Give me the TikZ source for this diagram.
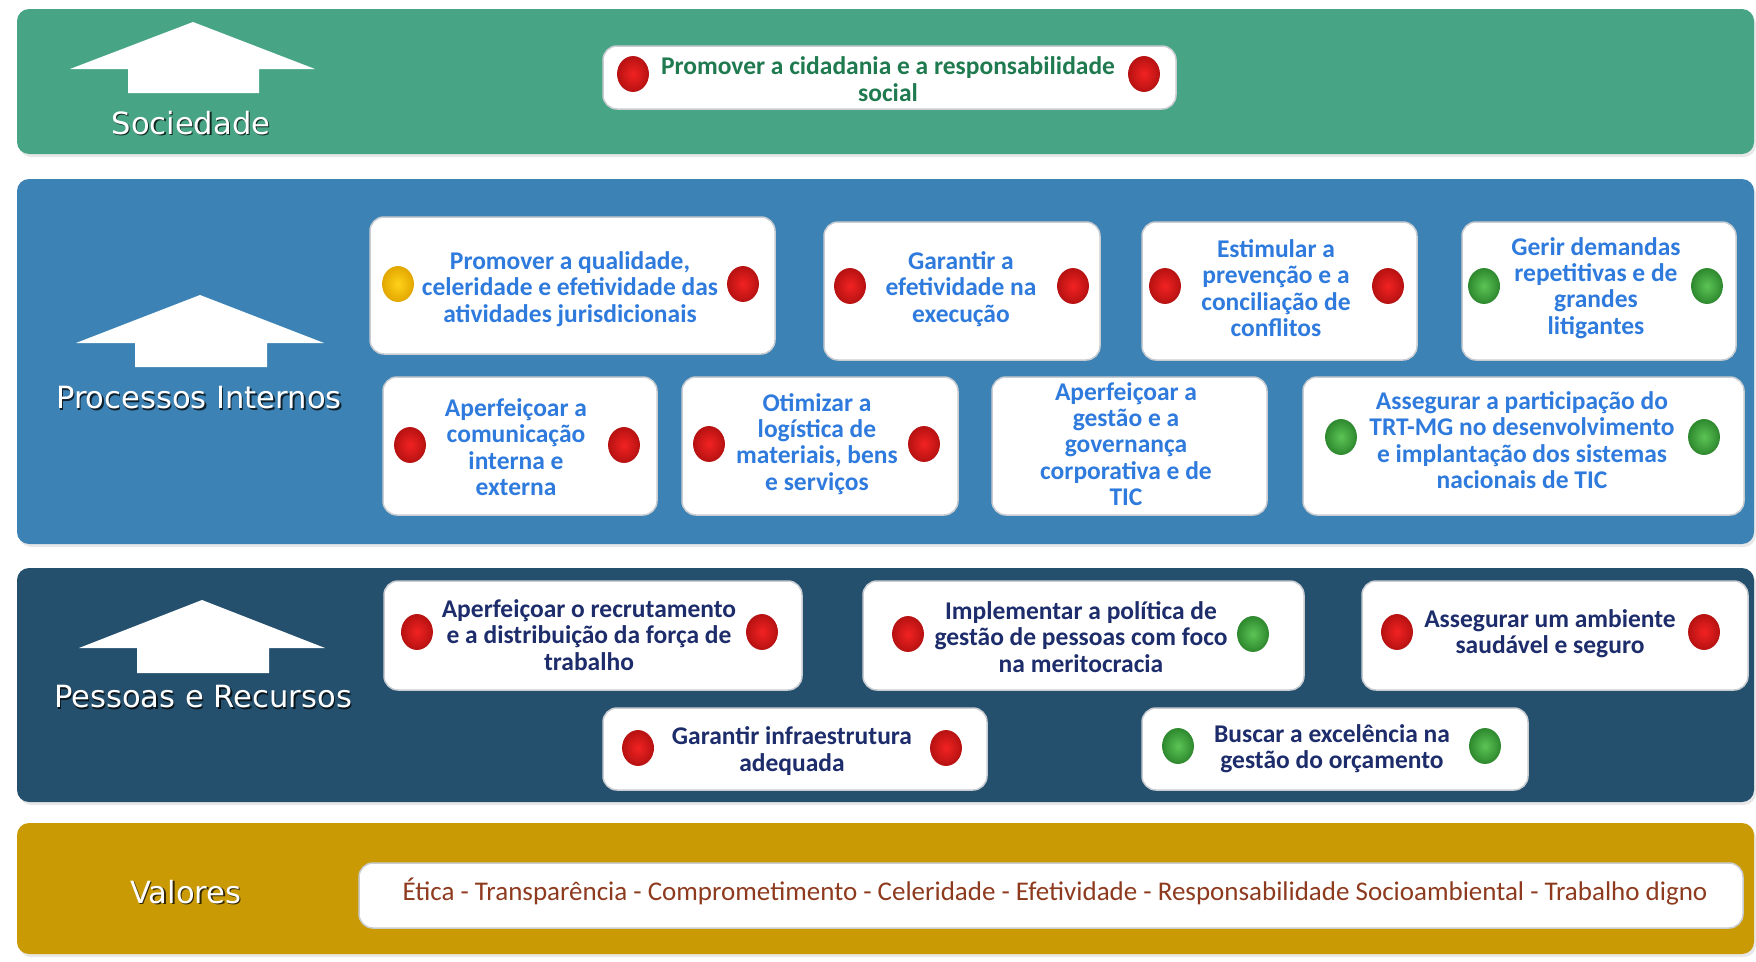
\documentclass[tikz,border=0pt]{standalone}
\usepackage{fontspec}
\setmainfont{Carlito}
\newfontfamily\labfont{DejaVu Sans}
\usetikzlibrary{shapes.geometric,shadows}
\definecolor{socgreen}{HTML}{47A586}
\definecolor{procblue}{HTML}{3C82B4}
\definecolor{pessnavy}{HTML}{24506E}
\definecolor{valgold}{HTML}{C99A04}
\definecolor{soctext}{HTML}{1F7A4F}
\definecolor{proctext}{HTML}{2F7BDD}
\definecolor{pesstext}{HTML}{1D2C6B}
\definecolor{valtext}{HTML}{8E3A1E}
\definecolor{boxline}{HTML}{C9CDD2}
\definecolor{rdin}{HTML}{F22222}
\definecolor{rdout}{HTML}{B81212}
\definecolor{gdin}{HTML}{5CC455}
\definecolor{gdout}{HTML}{2F8A2F}
\definecolor{ydin}{HTML}{FFD21A}
\definecolor{ydout}{HTML}{E3A800}
\tikzset{
  band/.style={rounded corners=12pt, drop shadow={shadow xshift=2pt, shadow yshift=-3pt, opacity=0.18}},
  objbox/.style={draw=boxline, line width=1.5pt, fill=white, rounded corners=14pt, inner sep=0pt},
  objtext/.style={align=center, font=\bfseries\fontsize{25.5}{26.3}\selectfont, inner sep=0pt},
  labtext/.style={font=\labfont\fontsize{30.6}{33}\selectfont, text=white, inner sep=0pt},
  labshadow/.style={font=\labfont\fontsize{30.6}{33}\selectfont, text=black, opacity=0.75, inner sep=0pt},
  dotbase/.style={ellipse, minimum width=31pt, minimum height=35pt, inner sep=0pt, line width=0.8pt, shading=radial},
  reddot/.style={dotbase, draw=rdout, inner color=rdin, outer color=rdout},
  greendot/.style={dotbase, draw=gdout, inner color=gdin, outer color=gdout},
  yellowdot/.style={dotbase, draw=ydout, inner color=ydin, outer color=ydout},
  uparrow/.style={fill=white}
}
\begin{document}
\begin{tikzpicture}[x=1pt,y=-1pt]
\useasboundingbox[fill=white] (0,0) rectangle (1756,961);
% bands
\fill[band, socgreen] (17,9) rectangle (1754,154);
\fill[band, procblue] (17,179) rectangle (1754,544);
\fill[band, pessnavy] (17,568) rectangle (1754,802);
\fill[band, valgold] (17,823) rectangle (1754,954);
% arrows
\fill[uparrow] (70,69) -- (193,22) -- (315,69) -- (259,69) -- (259,93) -- (128,93) -- (128,69) -- cycle;
\fill[uparrow] (76,343) -- (200,295) -- (324,343) -- (267,343) -- (267,367) -- (135,367) -- (135,343) -- cycle;
\fill[uparrow] (79,648) -- (202,600) -- (325,648) -- (269,648) -- (269,673) -- (137,673) -- (137,648) -- cycle;
% labels
\node[labshadow] (socS) at (192.3,124.3) {Sociedade};
\node[labtext] (soc) at (191,123) {Sociedade};
\node[labshadow] (procS) at (200.3,399.3) {Processos Internos};
\node[labtext] (proc) at (199,398) {Processos Internos};
\node[labshadow] (pessS) at (204.3,698.3) {Pessoas e Recursos};
\node[labtext] (pess) at (203,697) {Pessoas e Recursos};
\node[labshadow] (valS) at (187.3,893.3) {Valores};
\node[labtext] (val) at (186,892) {Valores};
% Sociedade box
\node[objbox, minimum width=573pt, minimum height=63pt] (s1) at (889.5,77.5) {};
\node[objtext, text=soctext] (s1t) at (888,79) {Promover a cidadania e a responsabilidade\\social};
\node[reddot] (s1l) at (633,74) {};
\node[reddot] (s1r) at (1144,74) {};
% Processos boxes
\node[objbox, minimum width=405pt, minimum height=137pt] (b1) at (572.5,285.5) {};
\node[objtext, text=proctext] (b1t) at (570,289) {Promover a qualidade,\\celeridade e efetividade das\\atividades jurisdicionais};
\node[yellowdot] (b1l) at (398,284) {};
\node[reddot] (b1r) at (743,284) {};
\node[objbox, minimum width=276pt, minimum height=138pt] (b2) at (962,291) {};
\node[objtext, text=proctext] (b2t) at (961,289) {Garantir a\\efetividade na\\execução};
\node[reddot] (b2l) at (850,286) {};
\node[reddot] (b2r) at (1073,286) {};
\node[objbox, minimum width=275pt, minimum height=138pt] (b3) at (1279.5,291) {};
\node[objtext, text=proctext] (b3t) at (1276,288) {Estimular a\\prevenção e a\\conciliação de\\conflitos};
\node[reddot] (b3l) at (1165,286) {};
\node[reddot] (b3r) at (1388,286) {};
\node[objbox, minimum width=274pt, minimum height=138pt] (b4) at (1599,291) {};
\node[objtext, text=proctext] (b4t) at (1596,288) {Gerir demandas\\repetitivas e de\\grandes\\litigantes};
\node[greendot] (b4l) at (1484,286) {};
\node[greendot] (b4r) at (1707,286) {};
\node[objbox, minimum width=274pt, minimum height=138pt] (b5) at (520,446) {};
\node[objtext, text=proctext] (b5t) at (516,447) {Aperfeiçoar a\\comunicação\\interna e\\externa};
\node[reddot] (b5l) at (410,445) {};
\node[reddot] (b5r) at (624,445) {};
\node[objbox, minimum width=276pt, minimum height=138pt] (b6) at (820,446) {};
\node[objtext, text=proctext] (b6t) at (817,444) {Otimizar a\\logística de\\materiais, bens\\e serviços};
\node[reddot] (b6l) at (709,444) {};
\node[reddot] (b6r) at (924,444) {};
\node[objbox, minimum width=275pt, minimum height=138pt] (b7) at (1129.5,446) {};
\node[objtext, text=proctext] (b7t) at (1126,444) {Aperfeiçoar a\\gestão e a\\governança\\corporativa e de\\TIC};
\node[objbox, minimum width=441pt, minimum height=138pt] (b8) at (1523.5,446) {};
\node[objtext, text=proctext] (b8t) at (1522,440) {Assegurar a participação do\\TRT-MG no desenvolvimento\\e implantação dos sistemas\\nacionais de TIC};
\node[greendot] (b8l) at (1341,437) {};
\node[greendot] (b8r) at (1704,437) {};
% Pessoas boxes
\node[objbox, minimum width=418pt, minimum height=109pt] (c1) at (593,635.5) {};
\node[objtext, text=pesstext] (c1t) at (589,635) {Aperfeiçoar o recrutamento\\e a distribuição da força de\\trabalho};
\node[reddot] (c1l) at (417,632) {};
\node[reddot] (c1r) at (762,632) {};
\node[objbox, minimum width=441pt, minimum height=109pt] (c2) at (1083.5,635.5) {};
\node[objtext, text=pesstext] (c2t) at (1081,637) {Implementar a política de\\gestão de pessoas com foco\\na meritocracia};
\node[reddot] (c2l) at (908,634) {};
\node[greendot] (c2r) at (1253,634) {};
\node[objbox, minimum width=386pt, minimum height=109pt] (c3) at (1555,635.5) {};
\node[objtext, text=pesstext] (c3t) at (1550,634) {Assegurar um ambiente\\saudável e seguro};
\node[reddot] (c3l) at (1397,632) {};
\node[reddot] (c3r) at (1704,632) {};
\node[objbox, minimum width=384pt, minimum height=82pt] (c4) at (795,749) {};
\node[objtext, text=pesstext] (c4t) at (792,751) {Garantir infraestrutura\\adequada};
\node[reddot] (c4l) at (638,748) {};
\node[reddot] (c4r) at (946,748) {};
\node[objbox, minimum width=386pt, minimum height=82pt] (c5) at (1335,749) {};
\node[objtext, text=pesstext] (c5t) at (1332,749) {Buscar a excelência na\\gestão do orçamento};
\node[greendot] (c5l) at (1178,746) {};
\node[greendot] (c5r) at (1485,746) {};
% Valores box
\node[objbox, minimum width=1384pt, minimum height=65pt] (v1) at (1051,895.5) {};
\node[inner sep=0pt, text=valtext, font=\fontsize{27}{30}\selectfont] (v1t) at (1055,892) {Ética - Transparência - Comprometimento - Celeridade - Efetividade - Responsabilidade Socioambiental - Trabalho digno};
\end{tikzpicture}
\end{document}
